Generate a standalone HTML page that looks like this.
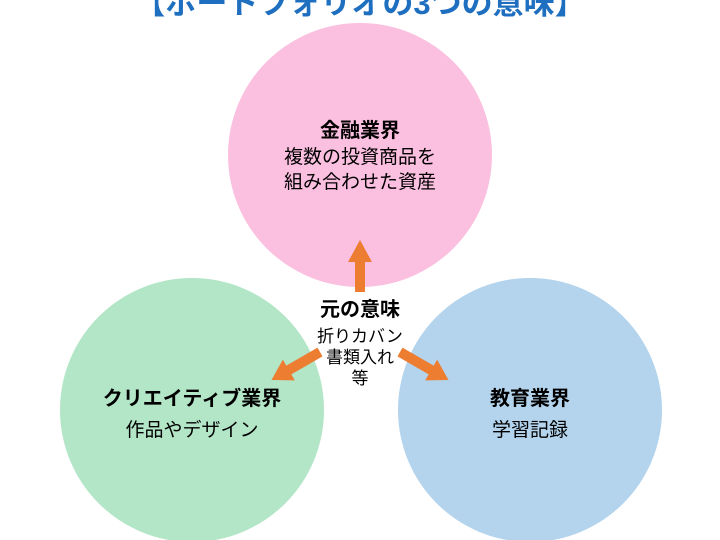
<!DOCTYPE html>
<html><head><meta charset="utf-8"><style>
body{margin:0;width:720px;height:540px;overflow:hidden;background:#fff;font-family:"Liberation Sans","Noto Sans CJK JP",sans-serif;position:relative}
.t{position:absolute;left:0;width:720px;text-align:center;white-space:nowrap}
</style></head><body>
<svg width="720" height="540" style="position:absolute;left:0;top:0">
<circle cx="360" cy="155" r="132" fill="#fbbfe0"/>
<circle cx="192" cy="410" r="132" fill="#b3e5c7"/>
<circle cx="530" cy="410" r="132" fill="#b3d4ec"/>
<g fill="#ed7d31">
<polygon points="355,292 365,292 365,262 372,262 360,240 348,262 355,262"/>
<g transform="translate(320,352) rotate(150)"><polygon points="0,-5 36,-5 36,-12 56,0 36,12 36,5 0,5"/></g>
<g transform="translate(400,352) rotate(30)"><polygon points="0,-5 36,-5 36,-12 56,0 36,12 36,5 0,5"/></g>
</g>
</svg>
<div class="t" style="top:-22px;font-size:31px;font-weight:bold;color:#1f6fc0">【ポートフォリオの3つの意味】</div>
<div class="t" style="top:114px;font-size:20px;font-weight:bold">金融業界</div>
<div class="t" style="top:145px;font-size:19px;line-height:25px">複数の投資商品を<br>組み合わせた資産</div>
<div class="t" style="top:293px;font-size:20px;font-weight:bold">元の意味</div>
<div class="t" style="top:326px;font-size:17px;line-height:21px">折りカバン<br>書類入れ<br>等</div>
<div style="position:absolute;left:60px;width:264px;text-align:center;top:382px;font-size:20px;font-weight:bold;white-space:nowrap">クリエイティブ業界</div>
<div style="position:absolute;left:60px;width:264px;text-align:center;top:415px;font-size:19px;white-space:nowrap">作品やデザイン</div>
<div style="position:absolute;left:398px;width:264px;text-align:center;top:382px;font-size:20px;font-weight:bold">教育業界</div>
<div style="position:absolute;left:398px;width:264px;text-align:center;top:415px;font-size:19px">学習記録</div>
</body></html>
